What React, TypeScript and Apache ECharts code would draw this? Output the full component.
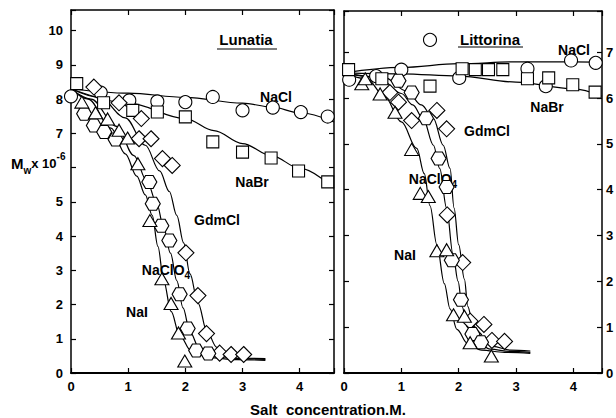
import React, { useEffect, useRef } from "react";
import * as echarts from "echarts";

// ---------- Lunatia (left panel) ----------
const lunNaCl = [[0.0, 8.08], [0.52, 8.19], [1.02, 7.96], [1.51, 7.93], [2.0, 7.91], [2.48, 8.06], [3.0, 7.67], [3.53, 7.75], [4.02, 7.62], [4.49, 7.49]];
const lunNaBr = [[0.1, 8.45], [0.57, 7.89], [1.08, 7.67], [1.51, 7.62], [2.0, 7.48], [2.48, 6.75], [3.0, 6.45], [3.5, 6.28], [3.98, 5.9], [4.49, 5.58]];
const lunGdmCl = [[0.4, 8.35], [0.84, 7.89], [1.23, 7.43], [1.19, 6.84], [1.4, 6.84], [1.6, 6.26], [1.77, 6.06], [2.01, 3.51], [2.22, 2.26], [2.37, 1.15], [2.6, 0.58], [2.8, 0.54], [3.02, 0.54]];
const lunNaClO4 = [[0.23, 7.57], [0.4, 7.23], [0.58, 7.04], [0.78, 6.82], [1.37, 5.58], [1.43, 4.94], [1.58, 4.3], [1.72, 3.87], [1.9, 2.3], [2.04, 1.3], [2.19, 0.66], [2.4, 0.57]];
const lunNaI = [[0.19, 7.91], [0.43, 7.6], [0.64, 7.42], [0.84, 7.09], [0.99, 6.86], [1.17, 6.11], [1.38, 4.45], [1.59, 2.75], [1.75, 2.03], [1.88, 1.17], [1.99, 0.35]];

const lunNaClFit = [[0, 8.3], [1, 8.17], [2, 8.05], [3, 7.88], [3.5, 7.77], [4, 7.6], [4.6, 7.33]];
const lunNaBrFit = [[0, 8.3], [1, 7.88], [2, 7.43], [2.5, 7.08], [3, 6.7], [3.5, 6.35], [4, 5.98], [4.6, 5.4]];
const lunGdmClFit = [[0, 8.3], [0.5, 8.05], [0.95, 7.45], [1.3, 6.65], [1.55, 5.9], [1.72, 5.3], [1.85, 4.6], [1.97, 3.8], [2.08, 2.9], [2.22, 2.05], [2.38, 1.2], [2.55, 0.75], [2.8, 0.5], [3.1, 0.43], [3.4, 0.42]];
const lunNaClO4Fit = [[0, 8.3], [0.35, 8.0], [0.8, 7.2], [1.1, 6.35], [1.33, 5.6], [1.5, 4.95], [1.62, 4.25], [1.74, 3.5], [1.85, 2.7], [1.96, 1.9], [2.08, 1.2], [2.25, 0.7], [2.5, 0.5], [2.9, 0.42], [3.4, 0.4]];
const lunNaIFit = [[0, 8.3], [0.3, 8.0], [0.7, 7.15], [0.95, 6.4], [1.15, 5.75], [1.3, 5.2], [1.42, 4.6], [1.52, 3.7], [1.62, 2.7], [1.75, 1.8], [1.9, 1.1], [2.1, 0.65], [2.4, 0.45], [2.9, 0.39], [3.4, 0.37]];

// ---------- Littorina (right panel) ----------
const litNaCl = [[0.09, 6.4], [0.56, 6.48], [1.0, 6.62], [1.5, 7.27], [2.01, 6.44], [3.2, 6.64], [3.52, 6.26], [3.96, 6.82], [4.39, 6.77]];
const litNaBr = [[0.08, 6.62], [0.66, 6.42], [1.5, 6.26], [2.06, 6.64], [2.29, 6.62], [2.52, 6.62], [2.77, 6.62], [3.2, 6.42], [3.57, 6.44], [3.99, 6.29], [4.38, 6.13]];
const litGdmCl = [[0.8, 6.12], [0.95, 5.91], [1.18, 5.51], [1.62, 5.73], [1.79, 5.33], [1.8, 3.45], [2.07, 2.41], [2.2, 1.13], [2.26, 0.84], [2.44, 1.06], [2.58, 0.71], [2.8, 0.69]];
const litNaClO4 = [[0.95, 6.38], [1.18, 6.12], [1.43, 5.56], [1.65, 4.68], [1.79, 4.06], [1.88, 2.46], [2.04, 1.6], [2.24, 0.85], [2.39, 0.67]];
const litNaI = [[0.31, 6.31], [0.37, 6.42], [0.63, 6.09], [0.89, 5.69], [1.18, 4.88], [1.33, 3.92], [1.47, 3.85], [1.62, 2.67], [1.79, 2.69], [1.91, 1.27], [2.1, 1.24], [2.2, 0.66], [2.57, 0.37]];

const litNaClFit = [[0, 6.55], [1, 6.67], [2, 6.75], [3, 6.79], [4, 6.79], [4.5, 6.78]];
const litNaBrFit = [[0, 6.55], [1, 6.53], [2, 6.48], [3, 6.35], [4, 6.2], [4.5, 6.04]];
const litGdmClFit = [[0, 6.55], [0.7, 6.45], [1.1, 6.15], [1.35, 5.85], [1.56, 5.55], [1.73, 4.97], [1.85, 4.46], [1.92, 3.6], [2.0, 2.8], [2.1, 2.05], [2.16, 1.45], [2.25, 1.05], [2.4, 0.75], [2.6, 0.58], [2.9, 0.5], [3.25, 0.48]];
const litNaClO4Fit = [[0, 6.55], [0.6, 6.45], [1.0, 6.1], [1.2, 5.85], [1.38, 5.55], [1.56, 4.97], [1.67, 4.46], [1.79, 3.6], [1.9, 2.6], [1.99, 2.0], [2.06, 1.45], [2.15, 1.0], [2.3, 0.7], [2.55, 0.52], [2.9, 0.47], [3.25, 0.45]];
const litNaIFit = [[0, 6.55], [0.4, 6.42], [0.7, 6.05], [1.0, 5.48], [1.27, 4.9], [1.4, 4.35], [1.5, 3.65], [1.62, 2.8], [1.75, 1.95], [1.85, 1.4], [1.97, 0.95], [2.15, 0.65], [2.4, 0.5], [2.8, 0.45], [3.25, 0.43]];

const xTickLabels = [0, 1, 2, 3, 4];
const lunYTickLabels = [0, 1, 2, 3, 4, 5, 7, 8, 9, 10];
const litYTickLabels = [0, 1, 2, 3, 4, 5, 6, 7];

const FONT = "'Liberation Sans', Arial, Helvetica, sans-serif";
const HEX = "path://M4,0 L12,0 L16,7 L12,14 L4,14 L0,7 Z";

const markers = (data: number[][], symbol: string, size: any, gi: number) => ({
  type: "scatter",
  data,
  symbol,
  symbolSize: size,
  xAxisIndex: gi * 2,
  yAxisIndex: gi * 2,
  itemStyle: { color: "#fff", borderColor: "#000", borderWidth: 1.1, opacity: 1 },
  z: 5,
  silent: true,
});

const curve = (data: number[][], gi: number) => ({
  type: "line",
  data,
  smooth: 0.35,
  smoothMonotone: "x",
  showSymbol: false,
  symbol: "none",
  lineStyle: { color: "#000", width: 1.2 },
  xAxisIndex: gi * 2,
  yAxisIndex: gi * 2,
  z: 3,
  silent: true,
});

const labelFmt = (allowed: number[]) => (v: number) => (allowed.indexOf(v) >= 0 ? String(v) : "");

const baseAxis = (gi: number, max: number, position: string, labels: number[] | null, lineW = 1.5) => ({
  type: "value",
  gridIndex: gi,
  position,
  min: 0,
  max,
  interval: 1,
  splitLine: { show: false },
  axisLine: { show: true, onZero: false, lineStyle: { color: "#000", width: lineW } },
  axisTick: { show: true, inside: true, length: 5, lineStyle: { color: "#000", width: 1.2 } },
  axisLabel: labels
    ? {
        show: true,
        formatter: labelFmt(labels),
        color: "#000",
        fontFamily: FONT,
        fontWeight: "bold",
        fontSize: 13,
        margin: position === "bottom" ? 7 : position === "left" ? 8 : 4,
        showMinLabel: true,
        showMaxLabel: true,
      }
    : { show: false },
});

const txt = (x: number, y: number, text: string, size = 14) => ({
  type: "text",
  x,
  y,
  silent: true,
  style: {
    text,
    fill: "#000",
    font: `bold ${size}px ${FONT}`,
    align: "center",
    verticalAlign: "middle",
  },
});

const richTxt = (x: number, y: number, text: string, rich: any, align = "center") => ({
  type: "text",
  x,
  y,
  silent: true,
  style: { text, fill: "#000", align, verticalAlign: "middle", rich },
});

const subRich = {
  a: { fontSize: 14, fontWeight: "bold", fontFamily: FONT, fill: "#000", lineHeight: 20 },
  b: { fontSize: 10, fontWeight: "bold", fontFamily: FONT, fill: "#000", lineHeight: 10, verticalAlign: "bottom" },
};

export default function App() {
  const ref = useRef<HTMLDivElement>(null);
  useEffect(() => {
    if (!ref.current) return;
    const chart = echarts.init(ref.current, null, { renderer: "svg" });
    const option: any = {
      animation: false,
      backgroundColor: "#fff",
      grid: [
        { left: 71, top: 10, width: 263, height: 363, outerBoundsMode: "none", containLabel: false },
        { left: 344, top: 11, width: 258, height: 362, outerBoundsMode: "none", containLabel: false },
      ],
      xAxis: [
        baseAxis(0, 4.6, "bottom", xTickLabels, 2),
        baseAxis(0, 4.6, "top", null),
        baseAxis(1, 4.5, "bottom", xTickLabels, 2),
        baseAxis(1, 4.5, "top", null),
      ],
      yAxis: [
        baseAxis(0, 10.6, "left", lunYTickLabels),
        baseAxis(0, 10.6, "right", null),
        baseAxis(1, 7.9, "left", null),
        baseAxis(1, 7.9, "right", litYTickLabels),
      ],
      series: [
        curve(lunNaClFit, 0),
        curve(lunNaBrFit, 0),
        curve(lunGdmClFit, 0),
        curve(lunNaClO4Fit, 0),
        curve(lunNaIFit, 0),
        markers(lunNaCl, "circle", 13, 0),
        markers(lunNaBr, "rect", 12, 0),
        markers(lunGdmCl, "diamond", 16, 0),
        markers(lunNaClO4, HEX, [15, 13], 0),
        markers(lunNaI, "triangle", [14, 12], 0),
        curve(litNaClFit, 1),
        curve(litNaBrFit, 1),
        curve(litGdmClFit, 1),
        curve(litNaClO4Fit, 1),
        curve(litNaIFit, 1),
        markers(litNaCl, "circle", 13, 1),
        markers(litNaBr, "rect", 12, 1),
        markers(litGdmCl, "diamond", 16, 1),
        markers(litNaClO4, HEX, [15, 13], 1),
        markers(litNaI, "triangle", [14, 12], 1),
      ],
      graphic: [
        txt(246, 39, "Lunatia", 15),
        { type: "line", silent: true, shape: { x1: 217, y1: 49, x2: 277, y2: 49 }, style: { stroke: "#000", lineWidth: 1.2 } },
        txt(276, 97, "NaCl"),
        txt(252, 182, "NaBr"),
        txt(217, 220, "GdmCl"),
        richTxt(166, 270, "{a|NaClO}{b|4}", subRich),
        txt(137, 312, "NaI"),
        txt(490, 39, "Littorina", 15),
        { type: "line", silent: true, shape: { x1: 458, y1: 47, x2: 523, y2: 47 }, style: { stroke: "#000", lineWidth: 1.2 } },
        txt(574, 50, "NaCl"),
        txt(547, 107, "NaBr"),
        txt(487, 131, "GdmCl"),
        richTxt(433, 179, "{a|NaClO}{b|4}", subRich),
        txt(405, 255, "NaI"),
        richTxt(11, 163, "{m|M}{w|w}{x|x 10}{s|-6}", {
          m: { fontSize: 15, fontWeight: "bold", fontFamily: FONT, fill: "#000", lineHeight: 24 },
          w: { fontSize: 10, fontWeight: "bold", fontFamily: FONT, fill: "#000", lineHeight: 10, verticalAlign: "bottom" },
          x: { fontSize: 13, fontWeight: "bold", fontFamily: FONT, fill: "#000", lineHeight: 24 },
          s: { fontSize: 10, fontWeight: "bold", fontFamily: FONT, fill: "#000", lineHeight: 10, verticalAlign: "top" },
        }, "left"),
        txt(328, 409, "Salt  concentration.M.", 15),
      ],
    };
    chart.setOption(option);
    return () => chart.dispose();
  }, []);
  return (
    <div
      ref={ref}
      style={{ position: "fixed", left: 0, top: 0, width: 616, height: 418, background: "#fff" }}
    />
  );
}
